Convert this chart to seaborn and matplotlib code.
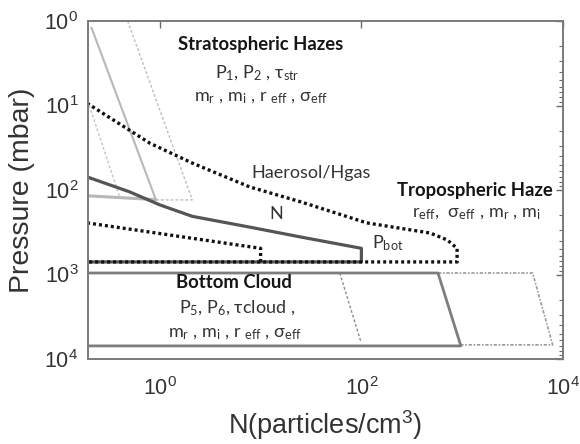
import math
import matplotlib
matplotlib.use("Agg")
import matplotlib.pyplot as plt
import seaborn as sns
from matplotlib.ticker import FixedLocator, LogLocator, NullLocator, FuncFormatter

sns.set_theme(style="white")
plt.rcParams["font.family"] = ["Liberation Sans", "DejaVu Sans"]
plt.rcParams["mathtext.fontset"] = "custom"
plt.rcParams["mathtext.rm"] = "Lato"
plt.rcParams["mathtext.it"] = "Lato:italic"
plt.rcParams["mathtext.bf"] = "Lato:bold"
plt.rcParams["mathtext.sf"] = "Liberation Sans"

# Stratospheric haze layer (light gray)
strat_solid_N = [0.21, 0.91]
strat_solid_P = [1.2, 128]
strat_base_N = [0.19, 0.91]
strat_base_P = [117, 130]
strat_dot_N = [0.48, 2.1, 0.91]
strat_dot_P = [1.0, 131, 131]
strat_left_N = [0.20, 0.40]
strat_left_P = [10, 121]

# Haerosol/Hgas envelope (black dotted)
haze_N = [0.19, 0.8, 2.1, 7.8, 25, 113, 480, 710, 890, 890, 0.19]
haze_P = [9.4, 28, 48, 92, 138, 245, 323, 390, 490, 710, 710]
haze_low_N = [0.19, 10, 10]
haze_low_P = [245, 490, 710]

# Tropospheric haze number density profile (dark gray)
trop_N = [0.19, 0.5, 1.0, 2.1, 7.8, 25, 100, 100, 0.19]
trop_P = [70, 105, 150, 205, 275, 360, 490, 710, 710]

# Bottom cloud
cloud_N = [0.19, 575, 970, 0.19]
cloud_P = [960, 960, 7000, 7000]
cloud_dot_N = [575, 5000, 7900, 970]
cloud_dot_P = [960, 960, 6800, 6800]
cloud_inner_N = [61, 99]
cloud_inner_P = [960, 6300]

x_ticks = [1, 100, 10000]

fig = plt.figure(figsize=(5.8, 4.44), dpi=100)
ax = fig.add_axes([88 / 580, 1 - 359 / 444, 475 / 580, 338 / 444])
ax.set_xscale("log")
ax.set_yscale("log")


def trace(xs, ys, **kw):
    sns.lineplot(x=xs, y=ys, sort=False, estimator=None, ax=ax, **kw)


light = "#b8b8b8"
trace(strat_left_N, strat_left_P, color="#c4c4c4", lw=1.0, linestyle=(0, (2, 1.5)))
trace(strat_dot_N, strat_dot_P, color="#bdbdbd", lw=1.0, linestyle=(0, (2, 1.5)))
trace(strat_solid_N, strat_solid_P, color=light, lw=1.5)
trace(strat_base_N, strat_base_P, color=light, lw=2.2)

trace(cloud_inner_N, cloud_inner_P, color="#8a8a8a", lw=1.0, linestyle=(0, (2, 1.5)))
trace(cloud_dot_N, cloud_dot_P, color="#9a9a9a", lw=1.2, linestyle=(0, (2, 1, 1, 1)))
trace(cloud_N, cloud_P, color="#7d7d7d", lw=2.0)

trace(trop_N, trop_P, color="#555555", lw=2.3)
trace(haze_N, haze_P, color="#111111", lw=2.4, linestyle=(0, (0.9, 0.9)))
trace(haze_low_N, haze_low_P, color="#111111", lw=2.4, linestyle=(0, (0.9, 0.9)))


def sci(v, pos):
    return r"$\mathsf{10^{%d}}$" % round(math.log10(v))


ax.set_xlim(0.194, 1e4)
ax.set_ylim(1e4, 1)
ax.xaxis.set_major_locator(FixedLocator(x_ticks))
ax.xaxis.set_minor_locator(NullLocator())
ax.xaxis.set_major_formatter(FuncFormatter(sci))
ax.yaxis.set_major_locator(LogLocator(base=10))
ax.yaxis.set_minor_locator(LogLocator(base=10, subs=range(2, 10)))
ax.yaxis.set_major_formatter(FuncFormatter(sci))
ax.tick_params(which="both", direction="in", top=True, right=True,
               color="#6a6a6a", labelsize=15.5, labelcolor="#333333")
ax.tick_params(which="major", length=5, width=1.0, pad=7)
ax.tick_params(which="minor", length=3, width=0.8)
ax.tick_params(axis="x", which="major", pad=13)
for sp in ax.spines.values():
    sp.set_color("#7a7a7a")
    sp.set_linewidth(1.4)

ax.set_xlabel(r"N(particles/cm$\mathsf{^3}$)", fontsize=19.5, color="#333333", labelpad=6)
ax.set_ylabel("Pressure (mbar)", fontsize=20.5, color="#333333", labelpad=7)

tf = dict(transform=ax.transAxes, ha="center", va="center", family=["Lato", "DejaVu Sans"])
bold = dict(fontsize=13.3, fontweight="bold", color="#151515")
reg = dict(fontsize=13, color="#333333")

ax.text(0.364, 0.929, "Stratospheric Hazes", **tf, **bold)
ax.text(0.356, 0.846, r"P$_1$, P$_2$ , τ$_\mathrm{str}$", **tf, **reg)
ax.text(0.364, 0.772, r"m$_\mathrm{r}$ , m$_\mathrm{i}$ , r $_\mathrm{eff}$ , σ$_\mathrm{eff}$", **tf, **reg)
ax.text(0.469, 0.550, "Haerosol/Hgas", **tf, **reg)
ax.text(0.396, 0.429, "N", **tf, **reg)
ax.text(0.815, 0.500, "Tropospheric Haze", **tf, **bold)
ax.text(0.817, 0.429, r"r$_\mathrm{eff}$,  σ$_\mathrm{eff}$ , m$_\mathrm{r}$ , m$_\mathrm{i}$", **tf, **reg)
ax.text(0.632, 0.343, r"P$_\mathrm{bot}$", **tf, **reg)
ax.text(0.307, 0.225, "Bottom Cloud", **tf, **bold)
ax.text(0.314, 0.151, r"P$_5$, P$_6$, τcloud ,", **tf, **reg)
ax.text(0.309, 0.074, r"m$_\mathrm{r}$ , m$_\mathrm{i}$ , r $_\mathrm{eff}$ , σ$_\mathrm{eff}$", **tf, **reg)

fig.savefig("out.png", dpi=100)
